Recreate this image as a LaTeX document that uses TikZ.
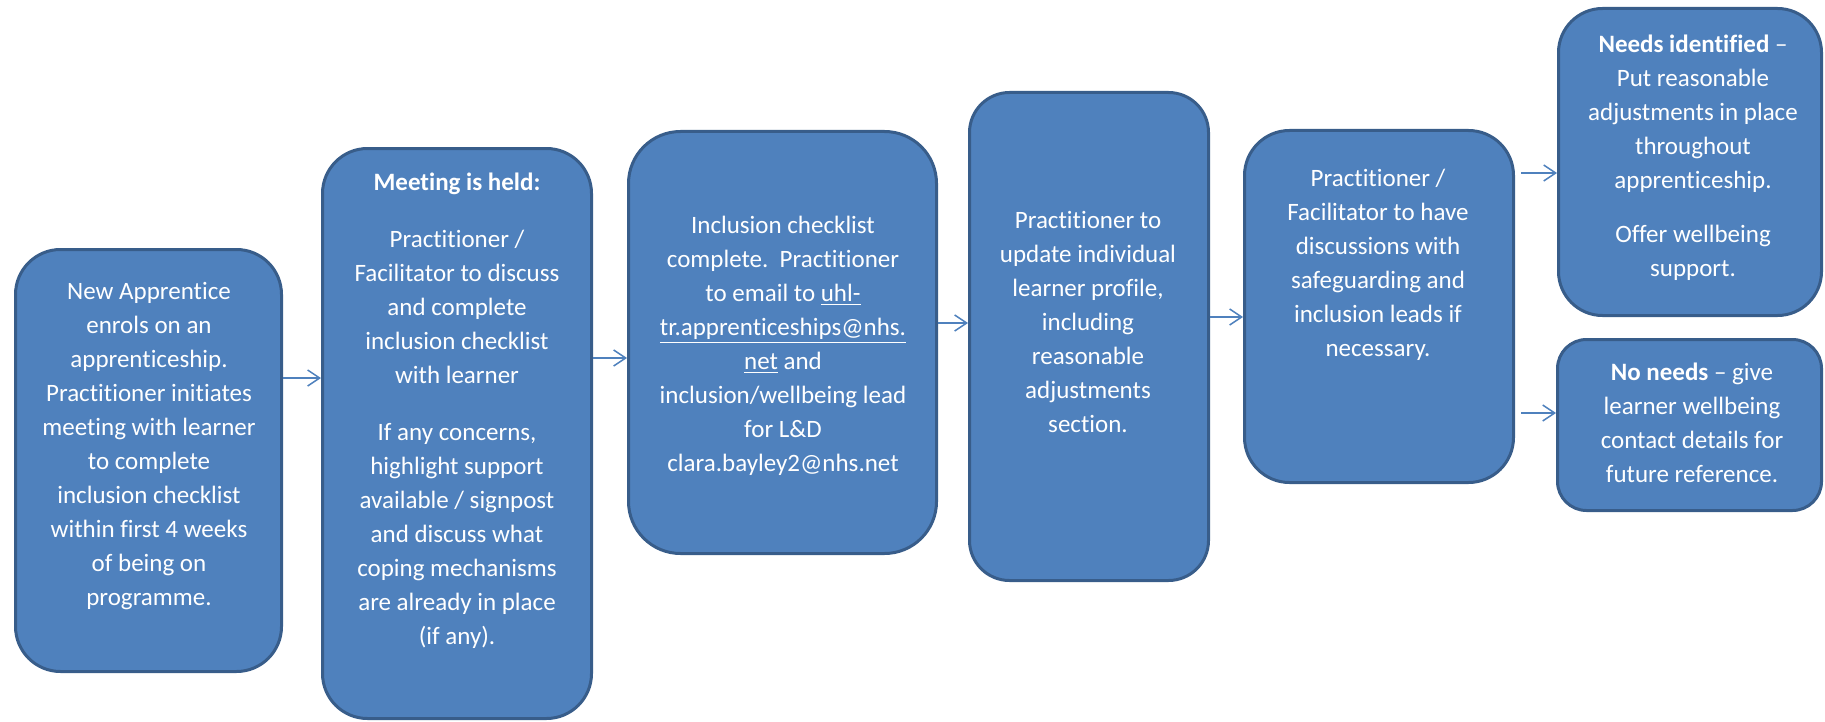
\documentclass[tikz,border=0pt]{standalone}
\usepackage{fontspec}
\setmainfont{Carlito}[Ligatures={TeX,NoCommon}]
\usetikzlibrary{arrows.meta}
\definecolor{boxfill}{HTML}{4F81BD}
\definecolor{boxline}{HTML}{385D8A}
\definecolor{arrowc}{HTML}{4F81BD}
\begin{document}
\begin{tikzpicture}[x=0.5pt,y=-0.5pt,
  box/.style={draw=boxline, fill=boxfill, line width=1.5pt, rectangle, inner sep=0pt},
  txt/.style={text=white, align=center, font=\fontsize{12.5pt}{17pt}\selectfont, inner sep=0pt},
  conn/.style={draw=arrowc, line width=0.75pt, -{Straight Barb[length=6pt,width=8pt]}}]
\useasboundingbox (0,0) rectangle (1825,722);

\node[box, minimum width=133pt, minimum height=211pt, rounded corners=22.5pt] (b1) at (148.5,460.5) {};
\node[box, minimum width=134.5pt, minimum height=285pt, rounded corners=22.5pt] (b2) at (457,433.5) {};
\node[box, minimum width=154pt, minimum height=211pt, rounded corners=26pt] (b3) at (782.5,342.5) {};
\node[box, minimum width=119.5pt, minimum height=244pt, rounded corners=20pt] (b4) at (1089,336.5) {};
\node[box, minimum width=134.5pt, minimum height=176pt, rounded corners=22.5pt] (b5) at (1379,306.5) {};
\node[box, minimum width=131.5pt, minimum height=153.5pt, rounded corners=22pt] (b6) at (1690,162) {};
\node[box, minimum width=132pt, minimum height=85.5pt, rounded corners=14.5pt] (b7) at (1689.5,425) {};

\node[txt] (t1) at (149,446.5) {New Apprentice\\enrols on an\\apprenticeship.\\Practitioner initiates\\meeting with learner\\to complete\\inclusion checklist\\within first 4 weeks\\of being on\\programme.};
\node[txt] (t2) at (457,411) {\textbf{Meeting is held:}\\[11.5pt]Practitioner /\\Facilitator to discuss\\and complete\\inclusion checklist\\with learner\\[11.5pt]If any concerns,\\highlight support\\available / signpost\\and discuss what\\coping mechanisms\\are already in place\\(if any).};
\node[txt] (t3) at (783,346) {Inclusion checklist\\complete.\ \ Practitioner\\to email to \underline{uhl-}\\\underline{tr.apprenticeships@nhs.}\\\underline{net} and\\inclusion/wellbeing lead\\for L\&D\\clara.bayley2@nhs.net};
\node[txt] (t4) at (1088,321.5) {Practitioner to\\update individual\\learner profile,\\including\\reasonable\\adjustments\\section.};
\node[txt] (t5) at (1378,265) {Practitioner /\\Facilitator to have\\discussions with\\safeguarding and\\inclusion leads if\\necessary.};
\node[txt] (t6) at (1693,158) {\textbf{Needs identified} --\\Put reasonable\\adjustments in place\\throughout\\apprenticeship.\\[10pt]Offer wellbeing\\support.};
\node[txt] (t7) at (1692,423) {\textbf{No needs} -- give\\learner wellbeing\\contact details for\\future reference.};

\coordinate (y1) at (0,378);
\coordinate (y2) at (0,358);
\coordinate (y3) at (0,323);
\coordinate (y4) at (0,317);
\coordinate (y5) at (0,173);
\coordinate (y6) at (0,413);
\draw[conn] (b1.east |- y1) -- (b2.west |- y1);
\draw[conn] (b2.east |- y2) -- (b3.west |- y2);
\draw[conn] (b3.east |- y3) -- (b4.west |- y3);
\draw[conn] (b4.east |- y4) -- (b5.west |- y4);
\draw[conn] ([xshift=3pt]b5.east |- y5) -- (b6.west |- y5);
\draw[conn] ([xshift=3pt]b5.east |- y6) -- (b7.west |- y6);
\end{tikzpicture}
\end{document}
